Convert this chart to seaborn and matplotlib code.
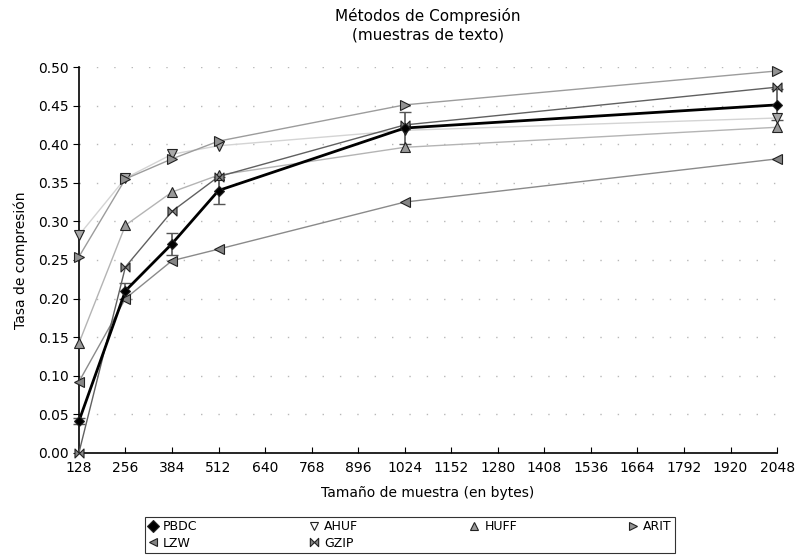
import numpy as np
import pandas as pd
import seaborn as sns
import matplotlib.pyplot as plt
from matplotlib.path import Path


sizes = [128, 256, 384, 512, 1024, 2048]

pbdc = [0.041, 0.210, 0.271, 0.340, 0.421, 0.451]
pbdc_err = [0.004, 0.010, 0.014, 0.017, 0.021, 0.020]
ahuf = [0.282, 0.356, 0.387, 0.398, 0.418, 0.434]
huff = [0.142, 0.295, 0.338, 0.360, 0.396, 0.422]
arit = [0.254, 0.355, 0.381, 0.404, 0.451, 0.495]
lzw = [0.092, 0.200, 0.249, 0.264, 0.325, 0.381]
gzip = [0.000, 0.241, 0.313, 0.358, 0.425, 0.474]

xticks = list(range(128, 2049, 128))
yticks = [0.0, 0.05, 0.10, 0.15, 0.20, 0.25, 0.30, 0.35, 0.40, 0.45, 0.50]

# bowtie marker for GZIP
bowtie = Path(
    [(-1, -1), (0, 0), (-1, 1), (-1, -1), (1, -1), (0, 0), (1, 1), (1, -1)],
    [Path.MOVETO, Path.LINETO, Path.LINETO, Path.CLOSEPOLY,
     Path.MOVETO, Path.LINETO, Path.LINETO, Path.CLOSEPOLY],
)

series = [
    # name, values, marker, line colour, line width, marker face, marker size
    ("PBDC", pbdc, "D", "black", 2.0, "black", 5),
    ("AHUF", ahuf, "v", "#d4d4d4", 1.0, "#a8a8a8", 7.5),
    ("HUFF", huff, "^", "#b4b4b4", 1.0, "#999999", 7.5),
    ("ARIT", arit, ">", "#9c9c9c", 1.0, "#929292", 7.5),
    ("LZW", lzw, "<", "#8a8a8a", 1.0, "#858585", 7.5),
    ("GZIP", gzip, bowtie, "#606060", 1.0, "#858585", 6.5),
]

sns.set_style("ticks")
plt.rcParams["font.family"] = ["DejaVu Sans"]
plt.rcParams["text.color"] = "black"
plt.rcParams["axes.labelcolor"] = "black"
plt.rcParams["xtick.color"] = "black"
plt.rcParams["ytick.color"] = "black"

fig = plt.figure(figsize=(7.97, 5.59), dpi=100)
ax = fig.add_axes([0.099, 0.190, 0.876, 0.690])

# draw PBDC last so it sits on top
order = [1, 2, 3, 4, 5, 0]
handles = {}
for i in order:
    name, vals, mk, col, lw, face, ms = series[i]
    df = pd.DataFrame({"x": sizes, "y": vals})
    sns.lineplot(data=df, x="x", y="y", ax=ax, color=col, linewidth=lw,
                 marker=mk, markersize=ms, markerfacecolor=face,
                 markeredgecolor="#222222", markeredgewidth=0.8,
                 clip_on=False, zorder=3 + (i == 0))
    handles[name] = ax.lines[-1]

ax.errorbar(sizes, pbdc, yerr=pbdc_err, fmt="none", ecolor="#555555",
            elinewidth=1.2, capsize=4, capthick=1.0, zorder=2, clip_on=False)

ax.set_xlim(128, 2048)
ax.set_ylim(0, 0.5)
ax.set_xticks(xticks)
ax.set_yticks(yticks)
ax.set_yticklabels([f"{v:.2f}" for v in yticks])
ax.tick_params(axis="x", direction="in", length=4, labelsize=10, pad=6)
ax.tick_params(axis="y", direction="out", length=4, labelsize=10)
ax.yaxis.grid(True, color="#b8b8b8", linestyle=(0, (1, 11.5)), linewidth=1)
ax.xaxis.grid(False)
sns.despine(ax=ax)
ax.spines["left"].set_linewidth(1.2)
ax.spines["bottom"].set_linewidth(1.2)
ax.spines["left"].set_color("black")
ax.spines["bottom"].set_color("black")

ax.set_xlabel("Tamaño de muestra (en bytes)", fontsize=10, labelpad=8)
ax.set_ylabel("Tasa de compresión", fontsize=10, labelpad=7)
ax.set_title("Métodos de Compresión\n(muestras de texto)", fontsize=11,
             pad=20, linespacing=1.25)

# legend filled row by row: PBDC AHUF HUFF ARIT / LZW GZIP
names = ["PBDC", "LZW", "AHUF", "GZIP", "HUFF", "ARIT"]
leg_handles = []
for name in names:
    h = handles[name]
    proxy = plt.Line2D([], [], linestyle="none", marker=h.get_marker(),
                       markersize=6, markerfacecolor=h.get_markerfacecolor(),
                       markeredgecolor="#222222", markeredgewidth=0.8)
    if name == "AHUF":
        proxy.set_markerfacecolor("white")
    leg_handles.append(proxy)

leg = fig.legend(leg_handles, names, loc="lower left",
                 bbox_to_anchor=(0.182, 0.011, 0.665, 0.062), mode="expand",
                 ncol=4, fontsize=9, frameon=True, fancybox=False,
                 handlelength=0.8, handletextpad=0.4, borderpad=0.25,
                 labelspacing=0.3, borderaxespad=0)
leg.get_frame().set_edgecolor("black")
leg.get_frame().set_linewidth(0.8)

fig.savefig("out.png", dpi=100)
